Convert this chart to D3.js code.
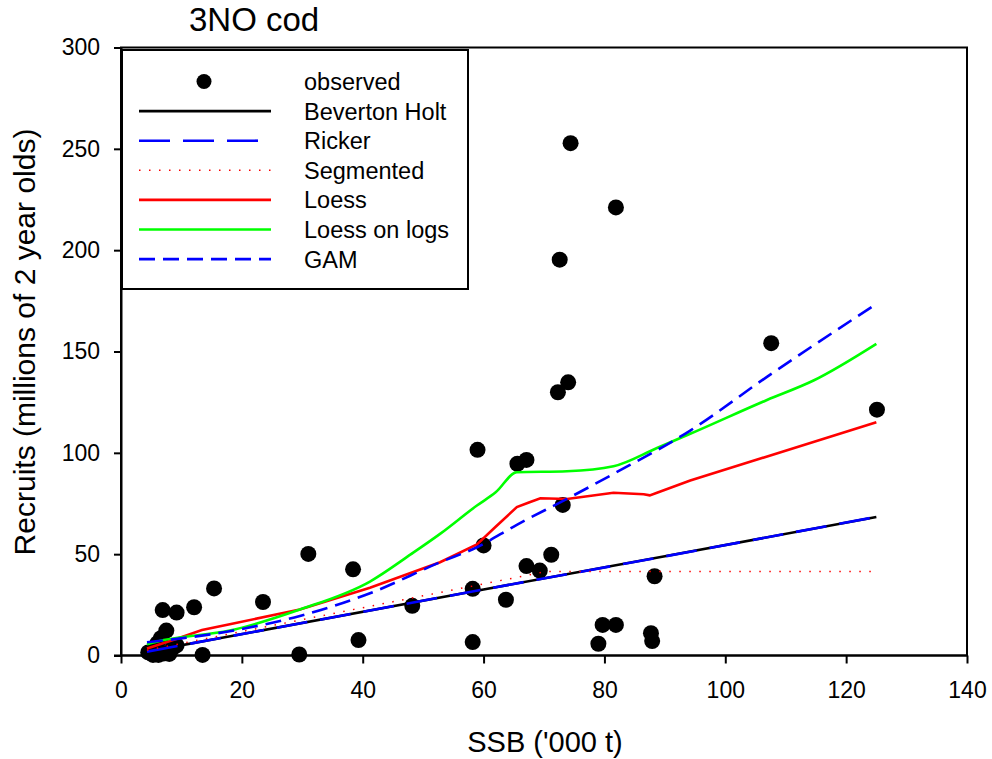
<!DOCTYPE html>
<html>
<head>
<meta charset="utf-8">
<script src="https://cdn.jsdelivr.net/npm/d3@7"></script>
<style>
  body { margin: 0; background: #fff; }
  svg text { font-family: Arial, "Liberation Sans", sans-serif; fill: #000; }
</style>
</head>
<body>
<svg id="chart" width="992" height="759"></svg>
<script>
// observed SSB ('000 t) and recruits (millions of 2 year olds)
var obsSSB = [4.5, 5.3, 6.2, 7.0, 8.0, 8.5, 9.2, 6.0, 6.6, 7.5, 5.8, 6.9, 9.2, 12.1, 15.4, 13.5,
              23.5, 29.5, 31.0, 38.4, 39.3, 48.2, 58.2, 58.2, 59.0, 60.0, 63.7, 65.6, 67.1, 67.1,
              69.3, 71.2, 72.3, 72.6, 73.1, 74.0, 74.4, 79.0, 79.7, 81.9, 81.9, 87.7, 87.9, 88.3,
              107.6, 125.1];
var obsRec = [1.5, 0.3, 0.3, 1.0, 0.8, 3.5, 5.0, 6.0, 8.5, 12.3, 3.0, 22.4, 21.2, 23.8, 33.1, 0.3,
              26.4, 0.5, 50.1, 42.5, 7.6, 24.5, 6.6, 32.9, 101.5, 54.3, 27.5, 94.6, 96.5, 44.1,
              41.9, 49.7, 129.9, 195.3, 74.3, 134.8, 252.8, 5.8, 15.1, 15.1, 221.1, 11.0, 7.1, 39.1,
              154.1, 121.3];

// fitted curves
var bhX = [4.3, 60, 90, 125];
var bhY = [1.9, 32.6, 49.0, 68.3];
var rickerX = [4.3, 60, 90, 125];
var rickerY = [1.9, 32.6, 48.9, 68.4];
var segX = [4.3, 70.5, 125];
var segY = [2.6, 41.5, 41.5];
var loessX = [4.3, 9.0, 13.4, 18.0, 29.6, 41.2, 52.8, 58.9, 62.0, 65.5, 67.5, 69.4, 73.8, 81.5, 86.5, 87.5, 88.7, 94.2, 125];
var loessY = [3.5, 8.0, 12.6, 15.4, 22.7, 33.4, 46.0, 54.8, 63.5, 73.2, 75.5, 77.6, 77.2, 80.3, 79.6, 79.0, 80.3, 86.3, 115.1];
var logsX = [4.3, 7.1, 18.0, 29.6, 41.2, 48.0, 52.8, 58.9, 62.0, 65.5, 73.8, 81.5, 88.7, 94.2, 106.9, 114.6, 125];
var logsY = [5.5, 7.6, 12.3, 22.7, 36.5, 50.0, 60.0, 74.0, 80.5, 90.4, 90.9, 93.4, 102.4, 109.4, 126.1, 135.7, 153.8];
var gamX = [4.3, 18.0, 29.6, 41.2, 52.8, 58.9, 65.5, 73.8, 81.5, 94.2, 106.9, 125];
var gamY = [6.5, 12.0, 19.5, 30.7, 46.0, 53.4, 64.5, 77.3, 89.6, 111.0, 137.5, 173.5];

var xTicks = [0, 20, 40, 60, 80, 100, 120, 140];
var yTicks = [0, 50, 100, 150, 200, 250, 300];
var legendLabels = ["observed", "Beverton Holt", "Ricker", "Segmented", "Loess", "Loess on logs", "GAM"];

var svg = d3.select("#chart");
var plotLeft = 121, plotTop = 47.5, plotRight = 967, plotBottom = 655.5;

var x = d3.scaleLinear().domain([0, 140]).range([plotLeft, plotRight]);
var y = d3.scaleLinear().domain([0, 300]).range([plotBottom, plotTop]);

function zip(xs, ys) { return xs.map(function(v, i) { return [v, ys[i]]; }); }

// frame
svg.append("rect")
    .attr("x", plotLeft).attr("y", plotTop)
    .attr("width", plotRight - plotLeft).attr("height", plotBottom - plotTop)
    .attr("fill", "none").attr("stroke", "#000").attr("stroke-width", 2);

// axes
var gx = svg.append("g")
    .attr("transform", "translate(0," + plotBottom + ")")
    .call(d3.axisBottom(x).tickValues(xTicks).tickSize(8).tickSizeOuter(0).tickPadding(18));
var gy = svg.append("g")
    .attr("transform", "translate(" + plotLeft + ",0)")
    .call(d3.axisLeft(y).tickValues(yTicks).tickSize(7).tickSizeOuter(0).tickPadding(14));
[gx, gy].forEach(function(g) {
    g.select(".domain").attr("stroke-width", 2);
    g.selectAll(".tick line").attr("stroke-width", 2);
    g.selectAll(".tick text").attr("font-size", 23).attr("font-family", "Arial, 'Liberation Sans', sans-serif");
});
gx.select(".domain").attr("d", "M" + (plotLeft - 7) + ",0H" + plotRight);

// points
svg.append("g").selectAll("circle")
    .data(zip(obsSSB, obsRec))
    .enter().append("circle")
    .attr("cx", function(d) { return x(d[0]); })
    .attr("cy", function(d) { return y(d[1]); })
    .attr("r", 8)
    .attr("fill", "#000");

var line = d3.line().x(function(d) { return x(d[0]); }).y(function(d) { return y(d[1]); });
var smooth = d3.line().curve(d3.curveMonotoneX).x(function(d) { return x(d[0]); }).y(function(d) { return y(d[1]); });

var styles = [
    { color: "#000", dash: null, width: 2.6 },
    { color: "#0000ff", dash: "31,13", width: 2.6 },
    { color: "#ff0000", dash: "1.5,8.5", width: 1.5 },
    { color: "#ff0000", dash: null, width: 2.6 },
    { color: "#00ff00", dash: null, width: 2.6 },
    { color: "#0000ff", dash: "16,8", width: 2.6 }
];
var curves = [
    line(zip(bhX, bhY)),
    line(zip(rickerX, rickerY)),
    line(zip(segX, segY)),
    line(zip(loessX, loessY)),
    smooth(zip(logsX, logsY)),
    smooth(zip(gamX, gamY))
];
curves.forEach(function(d, i) {
    svg.append("path")
        .attr("d", d)
        .attr("fill", "none")
        .attr("stroke", styles[i].color)
        .attr("stroke-width", styles[i].width)
        .attr("stroke-dasharray", styles[i].dash);
});

// legend
var lg = svg.append("g");
lg.append("rect")
    .attr("x", 122).attr("y", 50).attr("width", 346).attr("height", 239)
    .attr("fill", "#fff").attr("stroke", "#000").attr("stroke-width", 2);
legendLabels.forEach(function(t, i) {
    var ry = 81.5 + i * 29.6;
    if (i === 0) {
        lg.append("circle").attr("cx", 204).attr("cy", ry).attr("r", 7.5).attr("fill", "#000");
    } else {
        var s = styles[i - 1];
        lg.append("line")
            .attr("x1", 139).attr("x2", 271).attr("y1", ry).attr("y2", ry)
            .attr("stroke", s.color).attr("stroke-width", s.width)
            .attr("stroke-dasharray", s.dash);
    }
    lg.append("text")
        .attr("x", 304).attr("y", ry).attr("dy", "0.36em")
        .attr("font-size", 23.5)
        .text(t);
});

// titles
svg.append("text").attr("x", 189).attr("y", 31).attr("font-size", 33).text("3NO cod");
svg.append("text").attr("x", 545).attr("y", 752).attr("text-anchor", "middle")
    .attr("font-size", 29).text("SSB ('000 t)");
svg.append("text")
    .attr("transform", "translate(35," + 342 + ") rotate(-90)")
    .attr("text-anchor", "middle")
    .attr("font-size", 30)
    .text("Recruits (millions of 2 year olds)");
</script>
</body>
</html>
